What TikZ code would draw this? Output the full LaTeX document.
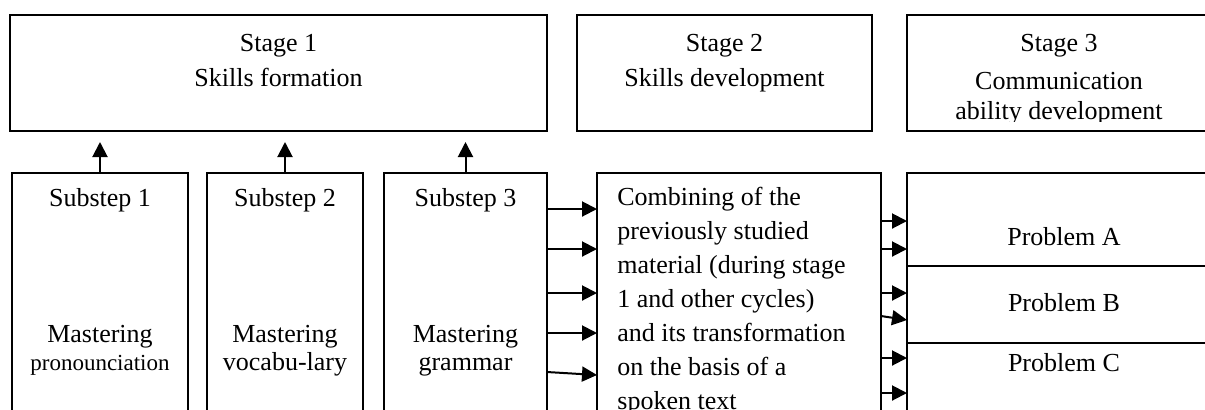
\documentclass[tikz,border=0pt]{standalone}
\usepackage{fontspec}
\setmainfont{Liberation Serif}
\usetikzlibrary{positioning, arrows.meta, calc}

\tikzstyle{box}=[%
      rectangle, draw=black, line width=1pt, fill=none,
      inner sep=0pt, outer sep=0pt
]
\tikzstyle{txt}=[%
      align=center, inner sep=0pt, font=\fontsize{13}{17.5}\selectfont
]
\tikzstyle{sub}=[%
      align=center, inner sep=0pt, anchor=north, font=\fontsize{13}{14}\selectfont
]
\tikzstyle{arr}=[%
      line width=1pt, -{Triangle[length=7.5pt,width=7.5pt]}
]

\begin{document}
\begin{tikzpicture}[x=0.5pt, y=-0.5pt]
    \useasboundingbox (0,0) rectangle (1205,409);
    \clip (0,0) rectangle (1205,409);

    % stages
    \node[box, anchor=north west, minimum width=268.5pt, minimum height=58pt] (st1) at (10,15) {};
    \node[box, minimum width=147.5pt, minimum height=58pt, right=15pt of st1.north east, anchor=north west] (st2) {};
    \node[box, minimum width=152pt, minimum height=58pt, right=17.5pt of st2.north east, anchor=north west] (st3) {};

    % substeps
    \node[box, anchor=north west, minimum width=88pt, minimum height=128.5pt] (sub1) at (12,173) {};
    \node[box, minimum width=78pt, minimum height=128.5pt, right=9.5pt of sub1.north east, anchor=north west] (sub2) {};
    \node[box, minimum width=81.5pt, minimum height=128.5pt, right=10.5pt of sub2.north east, anchor=north west] (sub3) {};
    \node[box, minimum width=142pt, minimum height=128.5pt, right=25pt of sub3.north east, anchor=north west] (comb) {};

    % problems
    \node[box, minimum width=157pt, minimum height=46.5pt, right=13pt of comb.north east, anchor=north west] (pA) {};
    \node[box, minimum width=157pt, minimum height=38.5pt, below=0pt of pA.south west, anchor=north west] (pB) {};
    \node[box, minimum width=157pt, minimum height=43.5pt, below=0pt of pB.south west, anchor=north west] (pC) {};

    % texts
    \node[txt, anchor=north] (t1) at (st1.center |- 0,34) {Stage 1\\Skills formation};
    \node[txt, anchor=north] (t2) at (st2.center |- 0,34) {Stage 2\\Skills development};
    \begin{scope}
      \clip (st3.north west) rectangle (1215,121);
      \node[txt, anchor=north] (t3) at (1059,34) {Stage 3\\[1.5pt]Communication\\[-2.5pt]ability development};
    \end{scope}

    \node[txt] (s1) at (sub1.center |- 0,200) {Substep 1};
    \node[txt] (s2) at (sub2.center |- 0,200) {Substep 2};
    \node[txt] (s3) at (sub3.center |- 0,200) {Substep 3};
    \node[sub] (m1) at (sub1.center |- 0,325) {Mastering\\{\fontsize{11.5}{14}\selectfont pronounciation}};
    \node[sub] (m2) at (sub2.center |- 0,325) {Mastering\\vocabu-lary};
    \node[sub] (m3) at (sub3.center |- 0,325) {Mastering\\grammar};

    \node[txt, align=left, anchor=north west, font=\fontsize{13}{17}\selectfont] (ct) at (617,187)
      {Combining of the\\previously studied\\material (during stage\\1 and other cycles)\\and its transformation\\on the basis of a\\spoken text};

    \node[txt] (ta) at (1064,237) {Problem A};
    \node[txt] (tb) at (1064,303) {Problem B};
    \node[txt] (tc) at (1064,363) {Problem C};

    % arrows
    \path[arr, shorten >=5.5pt]
          (sub1.north) edge (sub1.north |- st1.south)
          (sub2.north) edge (sub2.north |- st1.south)
          (sub3.north) edge (sub3.north |- st1.south)
    ;
    \path[arr]
          (sub3.east |- 0,209) edge (comb.west |- 0,209)
          (sub3.east |- 0,249) edge (comb.west |- 0,249)
          (sub3.east |- 0,293) edge (comb.west |- 0,293)
          (sub3.east |- 0,333) edge (comb.west |- 0,333)
          (sub3.east |- 0,372) edge (comb.west |- 0,375)
    ;
    \path[arr]
          (comb.east |- 0,221) edge (pA.west |- 0,221)
          (comb.east |- 0,249) edge (pA.west |- 0,249)
          (comb.east |- 0,293) edge (pB.west |- 0,293)
          (comb.east |- 0,316) edge (pB.west |- 0,320)
          (comb.east |- 0,358) edge (pC.west |- 0,358)
          (comb.east |- 0,393) edge (pC.west |- 0,393)
    ;
\end{tikzpicture}
\end{document}
